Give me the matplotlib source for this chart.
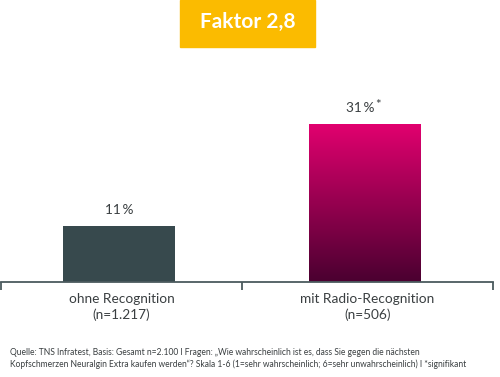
import numpy as np
import matplotlib.pyplot as plt
from matplotlib.patches import Rectangle
from matplotlib.colors import LinearSegmentedColormap

plt.rcParams['font.family'] = ['Lato', 'DejaVu Sans']

categories = ['ohne Recognition\n(n=1.217)', 'mit Radio-Recognition\n(n=506)']
values = [11, 31]
value_labels = ['11\u2009%', '31\u2009%']
title = 'Faktor 2,8'
note = ('Quelle: TNS Infratest, Basis: Gesamt n=2.100 I Fragen: \u201eWie wahrscheinlich ist es, dass Sie gegen die n\u00e4chsten\n'
        'Kopfschmerzen Neuralgin Extra kaufen werden\u201c? Skala 1-6 (1=sehr wahrscheinlich; 6=sehr unwahrscheinlich) I *signifikant')

txt = '#3a3f41'
line_c = '#4b5a5e'

fig = plt.figure(figsize=(5, 3.77), dpi=100)
ax = fig.add_axes([0.002, 1 - 282 / 377, 0.984, 182 / 377])

xpos = [0.48, 1.48]
w = 0.455
ax.bar(xpos[0], values[0], width=w, color='#37494d', zorder=2)

# gradient bar
grad = LinearSegmentedColormap.from_list('g', ['#4a0030', '#e2006f'])
bar2 = ax.bar(xpos[1], values[1], width=w, color='none', zorder=2)[0]
img = ax.imshow(np.linspace(0, 1, 256).reshape(-1, 1), cmap=grad, aspect='auto', origin='lower',
                extent=[xpos[1] - w / 2, xpos[1] + w / 2, 0, values[1]], zorder=2)
img.set_clip_path(bar2)

ax.set_xlim(0, 2)
ax.set_ylim(0, 35.7)
for s in ['top', 'right', 'left']:
    ax.spines[s].set_visible(False)
ax.spines['bottom'].set_color(line_c)
ax.spines['bottom'].set_linewidth(1.3)
ax.set_yticks([])
ax.set_xticks([0, 0.98, 2])
ax.set_xticklabels([])
ax.tick_params(axis='x', direction='out', length=6, width=1.3, color=line_c)

for x, lab in zip(xpos, categories):
    ax.text(x + 0.01, -2.2, lab, ha='center', va='top', fontsize=9.8, color=txt, linespacing=1.3)

ax.text(xpos[0], values[0] + 1.9, value_labels[0], ha='center', va='bottom', fontsize=9.8, color=txt)
t2 = ax.text(xpos[1] - 0.02, values[1] + 1.9, value_labels[1], ha='center', va='bottom', fontsize=9.8, color=txt)
ax.annotate('*', xy=(1, 1), xycoords=t2, xytext=(0.5, -6), textcoords='offset points',
            ha='left', va='bottom', fontsize=9.5, color=txt)

fig.patches.append(Rectangle((180 / 500, 1 - 47 / 377), 135 / 500, 47 / 377,
                             transform=fig.transFigure, color='#fbbb00', zorder=0))
fig.text(247.5 / 500, 1 - 22 / 377, title, ha='center', va='center', fontsize=15,
         fontweight='bold', color='white')

fig.text(10 / 500, 1 - 348 / 377, note, ha='left', va='top', fontsize=6.15, color=txt, linespacing=1.3)

fig.savefig('out.png', dpi=100)
